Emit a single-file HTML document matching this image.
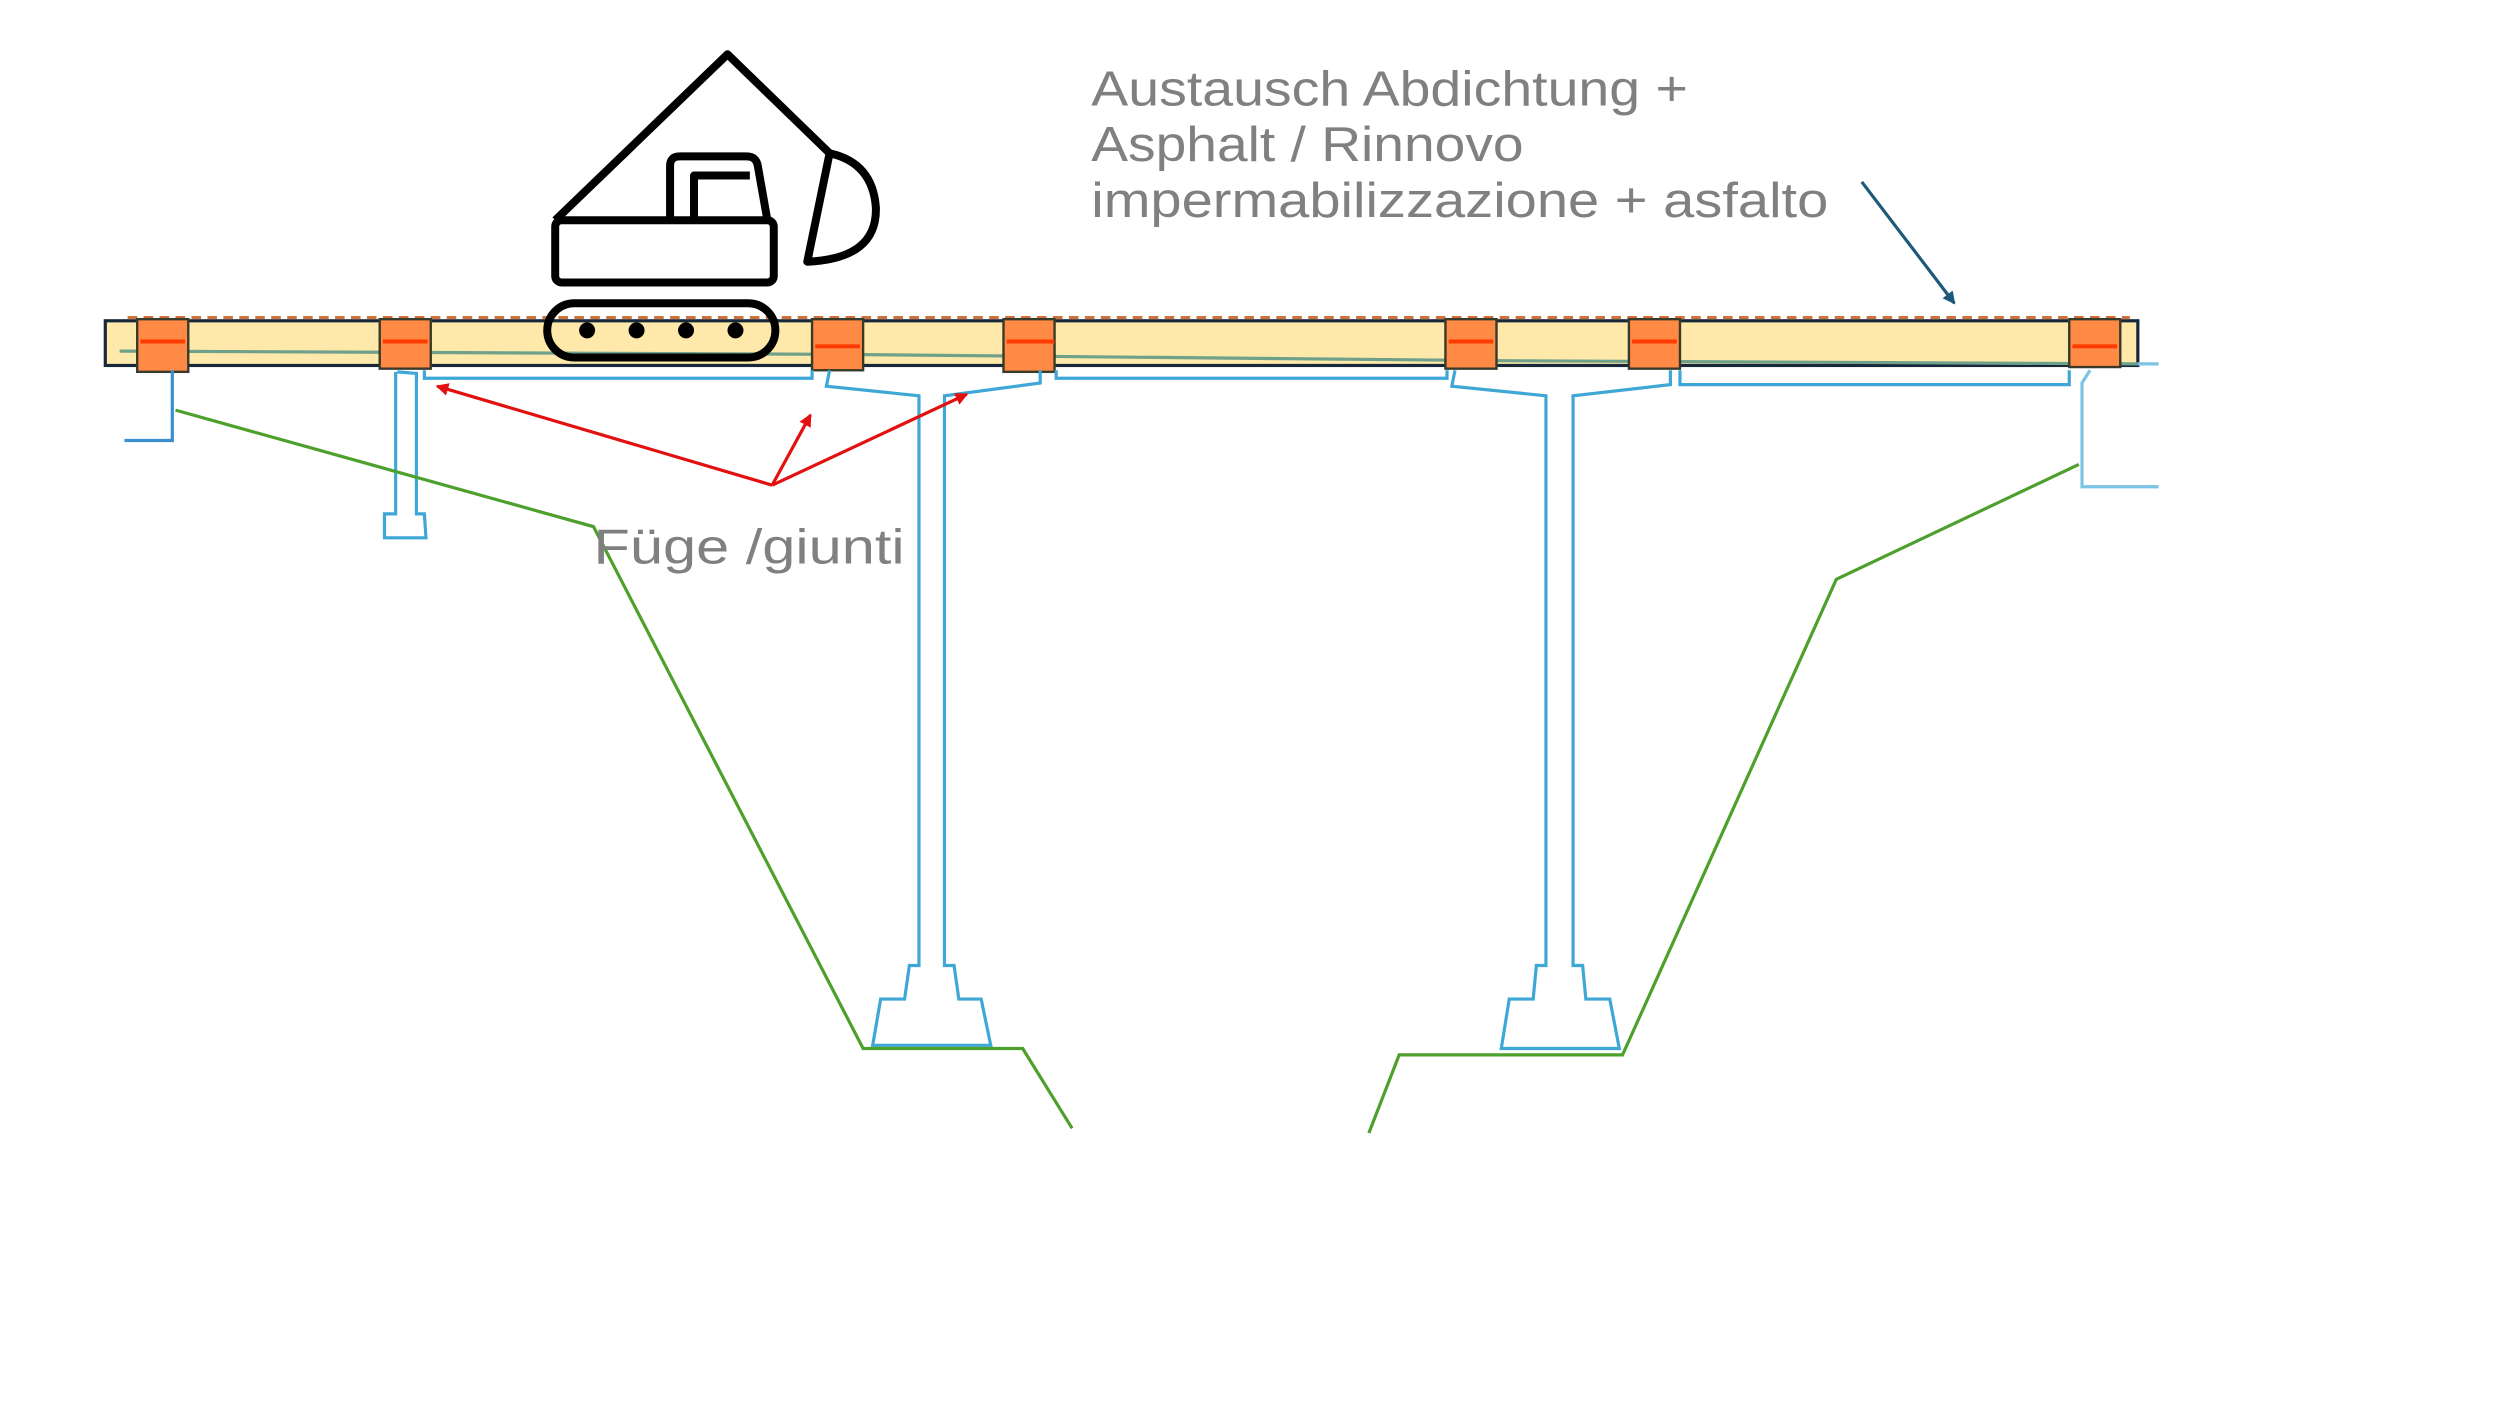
<!DOCTYPE html>
<html><head><meta charset="utf-8"><style>html,body{margin:0;padding:0;background:#fff;width:2500px;height:1406px;overflow:hidden}</style></head>
<body>
<svg width="2500" height="1406" viewBox="0 0 1567 881" preserveAspectRatio="none" xmlns="http://www.w3.org/2000/svg">
<defs>
<marker id="ar" markerWidth="8" markerHeight="8" refX="7" refY="4" orient="auto" markerUnits="userSpaceOnUse"><path d="M0,0 L8,4 L0,8 z" fill="#e31010"/></marker>
<marker id="ab" markerWidth="8" markerHeight="8" refX="7" refY="4" orient="auto" markerUnits="userSpaceOnUse"><path d="M0,0 L8,4 L0,8 z" fill="#1d5a7a"/></marker>
</defs>
<rect x="66" y="201" width="1274" height="28" fill="#fee9ab" stroke="#17283a" stroke-width="2"/>
<line x1="80" y1="199" x2="1335" y2="199" stroke="#d0703a" stroke-width="2" stroke-dasharray="6,4"/>
<polyline points="75,220 520,222 940,226 1340,228" fill="none" stroke="#6fa08a" stroke-width="2"/>
<g fill="#ff8a45" stroke="#3a3a2a" stroke-width="1.5">
<rect x="86" y="200" width="32" height="33"/><rect x="238" y="200" width="32" height="31"/>
<rect x="509" y="200" width="32" height="32"/><rect x="629" y="200" width="32" height="33"/>
<rect x="906" y="200" width="32" height="31"/><rect x="1021" y="200" width="32" height="31"/>
<rect x="1297" y="200" width="32" height="30"/>
</g>
<g stroke="#ff3a00" stroke-width="2.5">
<line x1="88" y1="214" x2="116" y2="214"/><line x1="240" y1="214" x2="268" y2="214"/>
<line x1="511" y1="217" x2="539" y2="217"/><line x1="631" y1="214" x2="661" y2="214"/>
<line x1="908" y1="214" x2="936" y2="214"/><line x1="1023" y1="214" x2="1051" y2="214"/>
<line x1="1299" y1="217" x2="1327" y2="217"/>
</g>
<g fill="none" stroke="#3fa7d6" stroke-width="2">
<polyline points="108,232 108,276 78,276" stroke="#3a8fd0"/>
<polyline points="248,233 248,322 241,322 241,337 267,337 266,322 261,322 261,234 249,233"/>
<polyline points="266,232 266,237 509,237 509,232"/>
<polyline points="520,232 518,242 576,248 576,605 570,605 567,626 552,626 547,655 621,655 615,626 601,626 598,605 592,605 592,248 652,240 652,232"/>
<polyline points="662,232 662,237 907,237 907,232"/>
<polyline points="912,232 910,242 969,248 969,605 963,605 961,626 946,626 941,657 1015,657 1009,626 994,626 992,605 986,605 986,248 1047,241 1047,232"/>
<polyline points="1053,232 1053,241 1297,241 1297,232"/>
<polyline points="1310,232 1305,240 1305,305 1353,305" stroke="#7cc4e4"/>
<line x1="1340" y1="228" x2="1353" y2="228" stroke="#7cc4e4"/>
</g>
<g fill="none" stroke="#4ea02c" stroke-width="2">
<polyline points="110,257 372,330 541,657 641,657 672,707"/>
<polyline points="858,710 877,661 1017,661 1151,363 1303,291"/>
</g>
<g stroke="#e31010" stroke-width="2" fill="none">
<line x1="484" y1="304" x2="274" y2="242" marker-end="url(#ar)"/>
<line x1="484" y1="304" x2="508" y2="260" marker-end="url(#ar)"/>
<line x1="484" y1="304" x2="606" y2="247" marker-end="url(#ar)"/>
</g>
<line x1="1167" y1="114" x2="1225" y2="190" stroke="#1d5a7a" stroke-width="2" marker-end="url(#ab)"/>
<g fill="none" stroke="#000" stroke-width="5" stroke-linejoin="round">
<polyline points="348,138 456,34 520,96"/>
<rect x="348" y="138" width="137" height="39" rx="4"/>
<path d="M420,138 L420,104 Q420,98 426,98 L468,98 Q474,98 475,104 L481,138"/>
<polyline points="435,138 435,110 470,110"/>
<path d="M520,96 L506,164 Q550,162 549,130 Q547,102 520,96 Z"/>
<rect x="343" y="190" width="143" height="34" rx="17"/>
</g>
<g fill="#000"><circle cx="368" cy="207" r="5"/><circle cx="399" cy="207" r="5"/><circle cx="430" cy="207" r="5"/><circle cx="461" cy="207" r="5"/></g>
<g font-family="Liberation Sans, sans-serif" font-size="31" fill="#808080">
<text x="684" y="66" textLength="374" lengthAdjust="spacingAndGlyphs">Austausch Abdichtung +</text>
<text x="684" y="101" textLength="271" lengthAdjust="spacingAndGlyphs">Asphalt / Rinnovo</text>
<text x="684" y="136" textLength="462" lengthAdjust="spacingAndGlyphs">impermabilizzazione + asfalto</text>
<text x="372" y="353" textLength="195" lengthAdjust="spacingAndGlyphs">Füge /giunti</text>
</g>
</svg>
</body></html>
